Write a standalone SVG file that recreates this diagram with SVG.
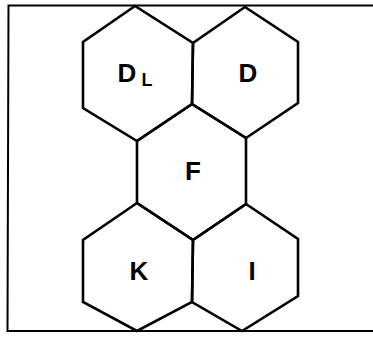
<svg xmlns="http://www.w3.org/2000/svg" width="373" height="340" viewBox="0 0 373 340">
<style>
.hex{fill:none;stroke:#000;stroke-width:2.6;stroke-linejoin:miter}
.frame{fill:none;stroke:#000;stroke-width:2}
.lbl{font-family:"Liberation Sans",Arial,sans-serif;font-size:26px;font-weight:bold;fill:#000;text-anchor:middle}
.sub{font-family:"Liberation Sans",Arial,sans-serif;font-size:18px;font-weight:bold;fill:#000;text-anchor:middle}
</style>
<rect width="373" height="340" fill="#fff"/>
<path class="frame" d="M373,5.5 L8.5,5.5 L7.5,331 L373,331"/>
<g id="node-DL">
<polygon class="hex" points="135,6 83,42 83,108 137,141 192,104 193,43"/>
<text class="lbl" x="127" y="82">D</text><text class="sub" x="147" y="86">L</text>
</g>
<g id="node-D">
<polygon class="hex" points="245,7 193,43 192,104 246,138 298,103 298,42"/>
<text class="lbl" x="248" y="82">D</text>
</g>
<g id="node-F">
<polygon class="hex" points="192,104 137,141 137,203 193,240 246,204 246,138"/>
<text class="lbl" x="193" y="180">F</text>
</g>
<g id="node-K">
<polygon class="hex" points="137,203 83,240 83,302 137,331 192,302 193,240"/>
<text class="lbl" x="139" y="280">K</text>
</g>
<g id="node-I">
<polygon class="hex" points="246,204 193,240 192,302 242,331 298,296 298,239"/>
<text class="lbl" x="252" y="280">I</text>
</g>
<g id="connectors"></g>
</svg>
